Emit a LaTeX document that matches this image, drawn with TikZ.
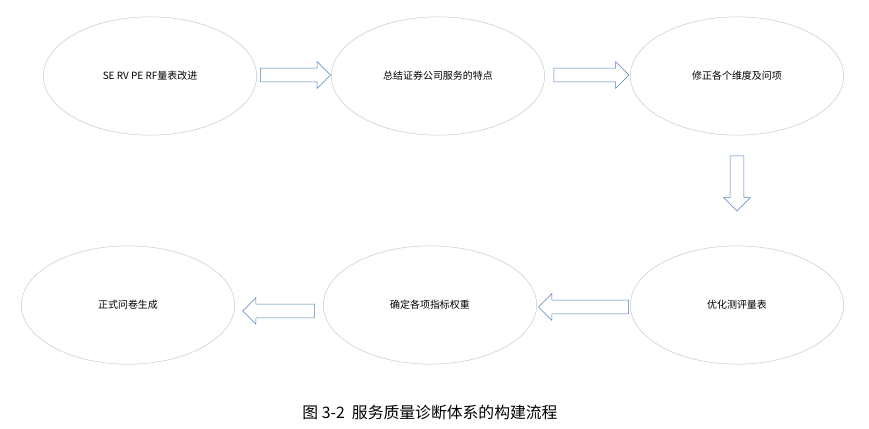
\documentclass[tikz,border=0pt]{standalone}
\usepackage{fontspec}
\newfontfamily\cjk{Noto Sans CJK SC}
\usetikzlibrary{shapes.geometric,shapes.arrows}
\definecolor{arrowblue}{RGB}{79,129,189}
\begin{document}
\begin{tikzpicture}[
    x=0.03cm, y=-0.03cm,
    font=\cjk\fontsize{8.5}{10}\selectfont,
    % --- node styles ---
    stage/.style = {ellipse, draw=black!22, fill=white,
                    minimum width=6.4cm, minimum height=3.55cm, inner sep=0pt},
    flow/.style  = {single arrow, draw=arrowblue, fill=white,
                    minimum width=0.78cm, single arrow head extend=0.19cm,
                    inner xsep=0pt, inner ysep=0.2cm, anchor=center},
]
\useasboundingbox (0,0) rectangle (869,429);

%============ STAGES ============
\node (s1) [stage] at (150,76)  {SE RV PE RF量表改进};
\node (s2) [stage] at (438,76)  {总结证券公司服务的特点};
\node (s3) [stage] at (737,76)  {修正各个维度及问项};
\node (s4) [stage] at (737,305) {优化测评量表};
\node (s5) [stage] at (430,305) {确定各项指标权重};
\node (s6) [stage] at (128,305) {正式问卷生成};

%============ BLOCK ARROWS ============
\node (a1) [flow, minimum height=2.1cm] at (292,75) {};
\node (a2) [flow, minimum height=2.25cm] at (588,75) {};
\node (a3) [flow, minimum height=1.65cm, inner xsep=0.2cm, inner ysep=0pt,
            shape border rotate=270] at (737,180) {};
\node (a4) [flow, minimum height=2.7cm, shape border rotate=180] at (587,307) {};
\node (a5) [flow, minimum height=2.15cm, shape border rotate=180] at (282,311) {};

%============ CAPTION ============
\node (cap) [font=\cjk\fontsize{13.5}{16}\selectfont] at (430,412)
  {图 3-2\ \ 服务质量诊断体系的构建流程};
\end{tikzpicture}
\end{document}
